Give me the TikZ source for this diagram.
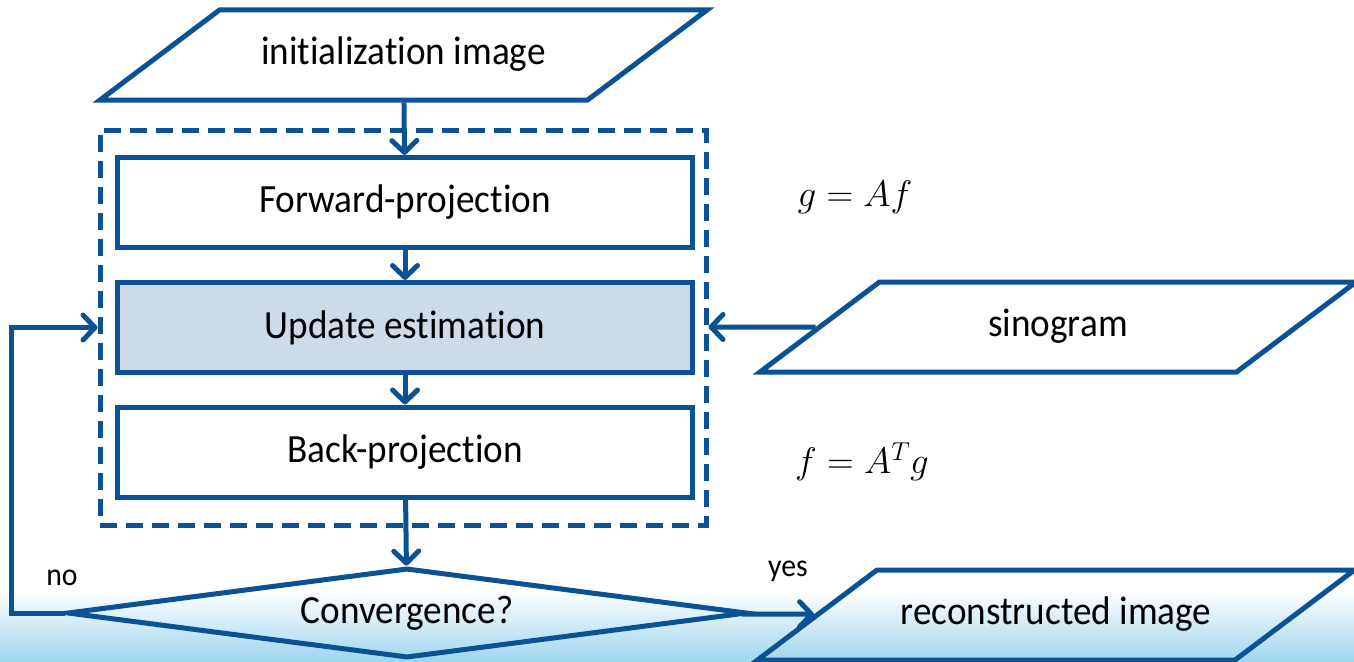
\RequirePackage{fix-cm}
\documentclass[tikz,border=0pt]{standalone}
\usepackage{amsmath}
\usepackage{fontspec}
\setmainfont{Carlito}[FakeStretch=0.93,RawFeature={-liga;-clig;-dlig}]
\usepackage{tikz}
\usetikzlibrary{shapes.geometric,arrows.meta}
\definecolor{flowblue}{RGB}{11,82,148}
\definecolor{updfill}{RGB}{205,219,232}
\definecolor{skyblue}{RGB}{160,214,238}

\begin{document}
\begin{tikzpicture}[x=1pt,y=-1pt,
    line width=5pt,
    >={Straight Barb[length=12pt,width=25pt,line cap=round,line join=round]},
    arr/.style={->,draw=flowblue,line width=5pt},
    procbox/.style={draw=flowblue,rectangle,minimum width=575pt,minimum height=90pt,
        font=\fontsize{40}{44}\selectfont},
    iobox/.style={draw=flowblue,trapezium,trapezium left angle=37,trapezium right angle=143,
        trapezium stretches body,text height=28pt,text depth=10pt,inner ysep=26pt,inner xsep=0pt,
        font=\fontsize{40}{44}\selectfont},
    lbl/.style={font=\fontsize{37}{40}\selectfont}]
    \useasboundingbox (0,0) rectangle (1354,661);
    \clip (0,0) rectangle (1354,661);
    % background shade at the bottom
    \shade[top color=white,bottom color=skyblue] (0,590) rectangle (1354,661);

    \node[iobox,minimum width=607pt] (init) at (403.5,55) {initialization image};
    \node[draw=flowblue,dashed,dash pattern=on 17pt off 9pt,minimum width=606pt,minimum height=395pt] (box) at (403,327.5) {};
    \node[procbox] (fwd) at (405,202.5) {Forward-projection};
    \node[procbox,fill=updfill] (upd) at (405,327.5) {Update estimation};
    \node[procbox] (back) at (405,452) {Back-projection};
    \node[draw=flowblue,diamond,aspect=7.5,inner sep=0pt,minimum width=680pt,minimum height=90pt,
        font=\fontsize{40}{44}\selectfont] (conv) at (407,613) {Convergence?};
    \node[iobox,minimum width=596pt] (sino) at (1058,327) {sinogram};
    \node[iobox,minimum width=597pt] (recon) at (1056,615) {reconstructed image};

    \node[lbl] (eqf) at (855,197) {$g = Af$};
    \node[lbl] (eqb) at (862,462) {$f = A^{T}g$};
    \node[font=\fontsize{32}{36}\selectfont] (no) at (62,578) {no};
    \node[font=\fontsize{32}{36}\selectfont] (yes) at (788,571) {yes};

    \draw[arr] (init) -- (fwd);
    \draw[arr] (fwd) -- (upd);
    \draw[arr] (upd) -- (back);
    \draw[arr] (back) -- (conv);
    \draw[arr] (sino) -- (sino -| box.east);
    \draw[arr] (conv) -- (recon);
    \draw[arr] (conv.west) -- ++(-53,0) |- (upd -| box.west);
\end{tikzpicture}
\end{document}
